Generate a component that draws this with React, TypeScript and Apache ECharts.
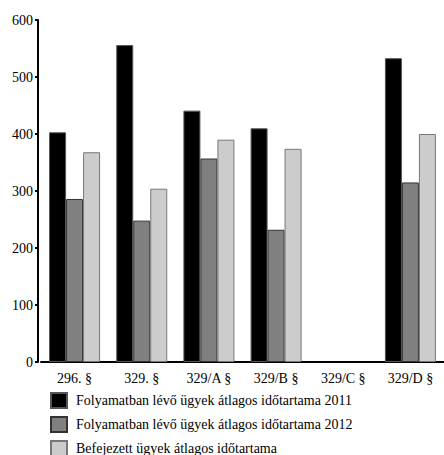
import React, { useEffect, useRef } from "react";
import * as echarts from "echarts";

const categories = ["296. §", "329. §", "329/A §", "329/B §", "329/C §", "329/D §"];
const seriesNames = [
  "Folyamatban lévő ügyek átlagos időtartama 2011",
  "Folyamatban lévő ügyek átlagos időtartama 2012",
  "Befejezett ügyek átlagos időtartama",
];
const values2011 = [403, 556, 441, 410, null, 533];
const values2012 = [286, 248, 357, 232, null, 315];
const valuesFinished = [368, 304, 390, 374, null, 400];
const yTicks = { min: 0, max: 600, interval: 100 };

const FONT = '"Liberation Serif", "Times New Roman", serif';

export default function App() {
  const ref = useRef<HTMLDivElement>(null);
  useEffect(() => {
    if (!ref.current) return;
    const chart = echarts.init(ref.current, null, { renderer: "svg" });
    const fills = ["#000000", "#808080", "#cccccc"];
    const borders = ["#555555", "#333333", "#777777"];
    const datas = [values2011, values2012, valuesFinished];
    chart.setOption({
      animation: false,
      textStyle: { fontFamily: FONT },
      grid: { left: 41, right: -6, top: 20, bottom: 93, containLabel: false },
      legend: {
        orient: "vertical",
        left: 45,
        top: 387,
        height: 120,
        itemWidth: 16,
        itemHeight: 15,
        itemGap: 7,
        icon: "rect",
        data: seriesNames,
        textStyle: { fontFamily: FONT, fontSize: 14, color: "#000", padding: [0, 0, 0, 4] },
      },
      xAxis: {
        type: "category",
        data: categories,
        axisLine: { show: true, lineStyle: { color: "#000", width: 2 } },
        axisTick: { show: false },
        axisLabel: { fontFamily: FONT, fontSize: 14, color: "#000", margin: 9, interval: 0 },
        splitLine: { show: false },
      },
      yAxis: {
        type: "value",
        min: yTicks.min,
        max: yTicks.max,
        interval: yTicks.interval,
        offset: 3,
        axisLine: { show: true, lineStyle: { color: "#000", width: 2 } },
        axisTick: { show: true, length: 3, lineStyle: { color: "#000", width: 2 } },
        axisLabel: { fontFamily: FONT, fontSize: 14, color: "#000", margin: 5 },
        splitLine: { show: false },
      },
      series: seriesNames.map((name, i) => ({
        name,
        type: "bar",
        data: datas[i],
        barWidth: 17,
        barGap: "0%",
        itemStyle: { color: fills[i], borderColor: borders[i], borderWidth: 1 },
      })),
    });
    return () => chart.dispose();
  }, []);
  return (
    <div
      ref={ref}
      style={{ position: "absolute", left: 0, top: 0, width: 444, height: 455, background: "#fff" }}
    />
  );
}
